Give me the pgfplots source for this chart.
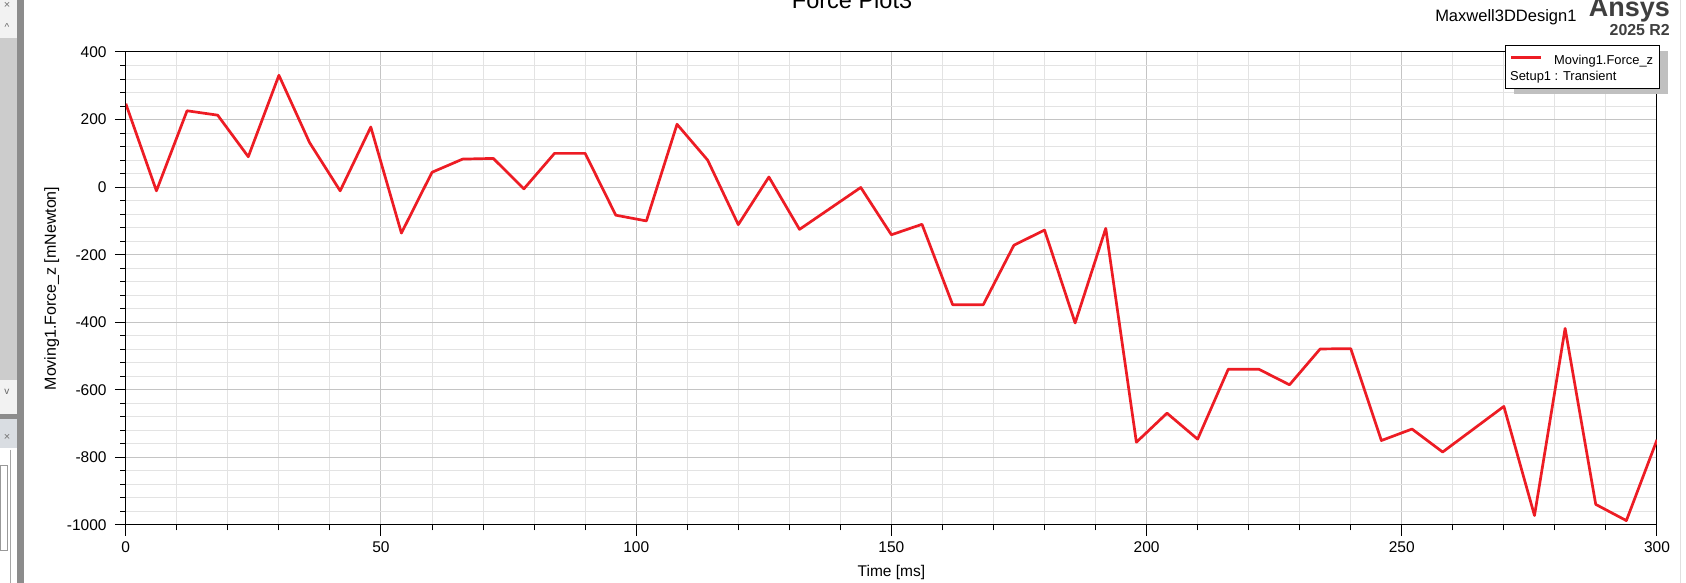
\documentclass[border=0pt]{standalone}
\usepackage{pgfplots}
\pgfplotsset{compat=1.18}
\usepackage{fontspec}
\setmainfont{Liberation Sans}
\definecolor{plotred}{HTML}{ED1C24}
\definecolor{majgrid}{HTML}{C4C4C4}
\definecolor{mingrid}{HTML}{E3E3E3}
\definecolor{ansysgray}{HTML}{3F3F3F}
\definecolor{panelhead}{HTML}{D9DDE2}
\definecolor{shadowgray}{HTML}{C0C0C0}
\pgfplotstableread{
t f
0 247
6 -11
12 226
18 213
24 90
30 331
36 132
42 -11
48 178
54 -136
60 44
66 83
72 85
78 -5
84 100
90 100
96 -83
102 -100
108 186
114 80
120 -111
126 30
132 -125
144 -1
150 -141
156 -110
162 -348
168 -348
174 -172
180 -127
186 -402
192 -122
198 -755
204 -669
210 -746
216 -539
222 -539
228 -585
234 -479
240 -478
246 -750
252 -716
258 -784
270 -649
276 -972
282 -418
288 -939
294 -987
300 -748
}\forcedata
\begin{document}
\begin{tikzpicture}
\useasboundingbox (0pt,0pt) rectangle (1686pt,583pt);
% window decoration on the left
\fill[white] (0pt,0pt) rectangle (1686pt,583pt);
\fill[black!5] (0pt,583pt) rectangle (16.5pt,545pt);
\fill[black!20] (0pt,545pt) rectangle (16.5pt,203pt);
\fill[black!5] (0pt,203pt) rectangle (16.5pt,169pt);
\fill[black!45] (0pt,169pt) rectangle (16.5pt,164pt);
\fill[black!45] (16.5pt,0pt) rectangle (23.5pt,583pt);
\fill[panelhead] (0pt,164pt) rectangle (16.5pt,135pt);
\node[font=\fontsize{11}{12}\selectfont, text=black!55] at (7pt,146pt) {×};
\node[font=\fontsize{11}{12}\selectfont, text=black!55] at (7pt,578pt) {×};
\node[font=\fontsize{10}{12}\selectfont, text=black!60] at (7pt,556pt) {\^{}};
\node[font=\fontsize{10}{12}\selectfont, text=black!60] at (7pt,191pt) {v};
\draw[black!35] (10pt,133pt) -- (10pt,0pt);
\draw[black!40] (0pt,118pt) rectangle (6.7pt,33pt);
\draw[black!12] (1680pt,0pt) -- (1680pt,583pt);
\begin{axis}[
  at={(125.8pt,58pt)}, anchor=south west,
  width=1531.2pt, height=473pt, scale only axis,
  xmin=0, xmax=300, ymin=-1000, ymax=400,
  xtick={0,50,...,300}, minor x tick num=4,
  ytick={-1000,-800,...,400}, minor y tick num=4,
  xticklabels={0,50,100,150,200,250,300},
  yticklabels={-1000,-800,-600,-400,-200,0,200,400},
  grid=both,
  major grid style={draw=majgrid, line width=1pt},
  minor grid style={draw=mingrid, line width=1pt},
  axis line style={black, line width=1pt},
  tick style={black, line width=1pt},
  xtick pos=bottom, ytick pos=left,
  tick align=outside,
  major tick length=11pt, minor tick length=5.5pt,
  ticklabel style={font=\fontsize{15.5}{18}\selectfont},
  xticklabel style={anchor=north, inner sep=0pt, yshift=-5pt},
  yticklabel style={anchor=east, inner sep=0pt, xshift=-8pt},
  xlabel={Time [ms]},
  ylabel={Moving1.Force\_z [mNewton]},
  xlabel style={at={(axis description cs:0.5,-0.1093)}, anchor=base, font=\fontsize{15.5}{18}\selectfont},
  ylabel style={at={(axis description cs:-0.0456,0.5)}, anchor=base, font=\fontsize{16}{18}\selectfont},
  title={Force Plot3},
  title style={at={(axis description cs:0.4743,1.0803)}, anchor=base, font=\fontsize{23.5}{28}\selectfont},
  clip=true,
]
\addplot[plotred, line width=2.7pt, line join=round]
  table[x=t, y=f] {\forcedata};
\end{axis}
% legend box with shadow
\fill[shadowgray] (1514pt,488.7pt) rectangle (1667.7pt,531.7pt);
\draw[black, line width=1pt, fill=white] (1505.7pt,494.7pt) rectangle (1659.3pt,537.7pt);
\draw[plotred, line width=2.7pt] (1511pt,525.3pt) -- (1540.7pt,525.3pt);
\node[anchor=base west, inner sep=0pt, font=\fontsize{12.9}{15}\selectfont] at (1554pt,518.7pt) {Moving1.Force\_z};
\node[anchor=base west, inner sep=0pt, font=\fontsize{12.9}{15}\selectfont] at (1510pt,502pt) {Setup1 : Transient};
\node[anchor=base west, font=\fontsize{16.5}{20}\selectfont] at (1431.7pt,561.3pt) {Maxwell3DDesign1};
\node[anchor=base east, font=\fontsize{27}{30}\selectfont\bfseries, text=ansysgray, inner sep=0pt] at (1670pt,566.3pt) {Ansys};
\node[anchor=base east, font=\fontsize{15.9}{18}\selectfont\bfseries, text=ansysgray, inner sep=0pt] at (1670pt,547pt) {2025 R2};
\end{tikzpicture}
\end{document}
